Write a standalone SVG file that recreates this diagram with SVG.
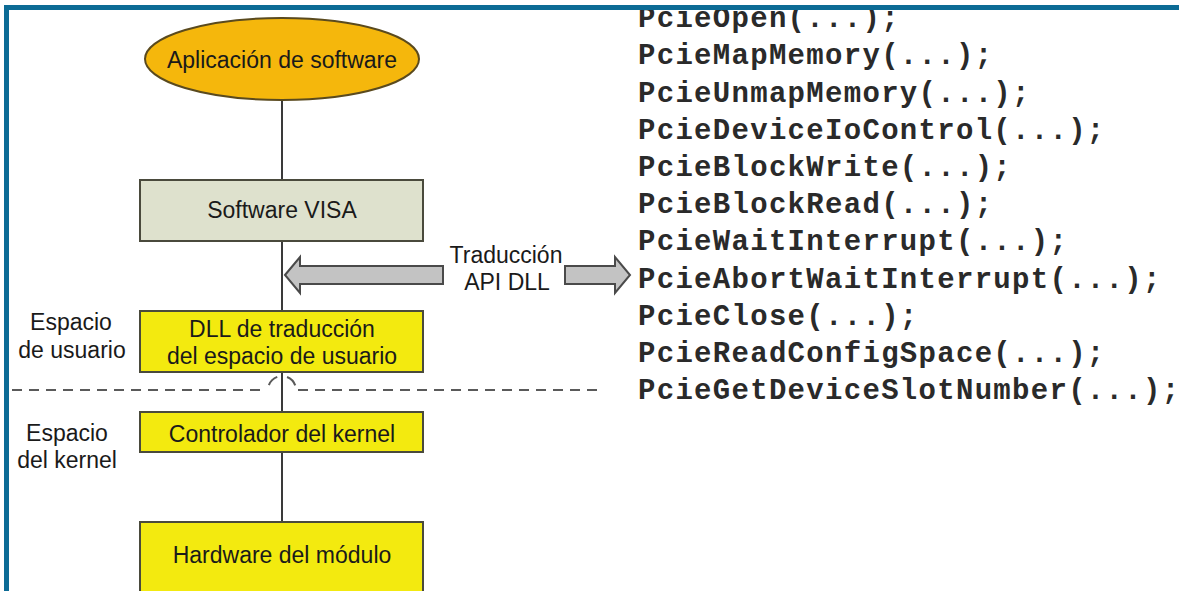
<svg xmlns="http://www.w3.org/2000/svg" width="1179" height="591" viewBox="0 0 1179 591">
<style>
.lbl{font-family:"Liberation Sans",Arial,sans-serif;font-size:23px;fill:#1a1a1a;text-anchor:middle}
.code{font-family:"Liberation Mono","Courier New",monospace;font-size:29px;letter-spacing:1.3px;font-weight:bold;fill:#2a2a2a}
.box{stroke:#4a4a3c;stroke-width:2}
.yel{fill:#f3ea0f}
.conn{stroke:#3a3a3a;stroke-width:2;fill:none}
.garrow{fill:#c3c3c3;stroke:#4a4a4a;stroke-width:2;stroke-linejoin:miter}
.dash{stroke:#5a5a5a;stroke-width:2;stroke-dasharray:10 7;fill:none}
</style>
<rect width="1179" height="591" fill="#ffffff"/>

<g id="connectors">
<line class="conn" x1="282" y1="100" x2="282" y2="180"/>
<line class="conn" x1="282" y1="241" x2="282" y2="311"/>
<line class="conn" x1="282" y1="372" x2="282" y2="412"/>
<line class="conn" x1="282" y1="452" x2="282" y2="522"/>
</g>

<g id="divider">
<line class="dash" x1="12" y1="390" x2="267" y2="390"/>
<path class="dash" d="M268,390 A14,14 0 0 1 296,390" style="stroke-dasharray:0 5 12 10 12 5"/>
<line class="dash" x1="298" y1="390" x2="598" y2="390"/>
</g>

<g id="n-app">
<ellipse cx="282" cy="59" rx="137" ry="41" fill="#f5b70c" stroke="#5a4a1e" stroke-width="2"/>
<text class="lbl" x="282" y="68">Aplicación de software</text>
</g>

<g id="n-visa">
<rect class="box" x="140" y="180" width="283" height="61" fill="#dee1cd"/>
<text class="lbl" x="282" y="218">Software VISA</text>
</g>

<g id="n-dll">
<rect class="box yel" x="140" y="311" width="283" height="61"/>
<text class="lbl" x="282" y="337">DLL de traducción</text>
<text class="lbl" x="282" y="364">del espacio de usuario</text>
</g>

<g id="n-kernel">
<rect class="box yel" x="140" y="412" width="283" height="40"/>
<text class="lbl" x="282" y="442">Controlador del kernel</text>
</g>

<g id="n-hw">
<rect class="box yel" x="140" y="522" width="283" height="80"/>
<text class="lbl" x="282" y="563">Hardware del módulo</text>
</g>

<g id="space-labels">
<text class="lbl" x="71" y="330">Espacio</text>
<text class="lbl" x="72" y="358">de usuario</text>
<text class="lbl" x="67" y="441">Espacio</text>
<text class="lbl" x="67" y="468">del kernel</text>
</g>

<g id="n-translation">
<polygon class="garrow" points="285,275 300,257 300,266 443,266 443,284 300,284 300,293"/>
<polygon class="garrow" points="565,266 615,266 615,257 630,275 615,293 615,284 565,284"/>
<text class="lbl" x="506" y="263">Traducción</text>
<text class="lbl" x="507" y="290">API DLL</text>
</g>

<g id="api-list">
<text class="code" x="638" y="27">PcieOpen(...);</text>
<text class="code" x="638" y="64">PcieMapMemory(...);</text>
<text class="code" x="638" y="101.5">PcieUnmapMemory(...);</text>
<text class="code" x="638" y="138.5">PcieDeviceIoControl(...);</text>
<text class="code" x="638" y="176">PcieBlockWrite(...);</text>
<text class="code" x="638" y="213">PcieBlockRead(...);</text>
<text class="code" x="638" y="250">PcieWaitInterrupt(...);</text>
<text class="code" x="638" y="287.5">PcieAbortWaitInterrupt(...);</text>
<text class="code" x="638" y="325">PcieClose(...);</text>
<text class="code" x="638" y="362">PcieReadConfigSpace(...);</text>
<text class="code" x="638" y="399">PcieGetDeviceSlotNumber(...);</text>
</g>

<g id="frame">
<rect x="4" y="5" width="1175" height="5" fill="#0c6b95"/>
<rect x="4" y="5" width="5" height="586" fill="#0c6b95"/>
</g>
</svg>
